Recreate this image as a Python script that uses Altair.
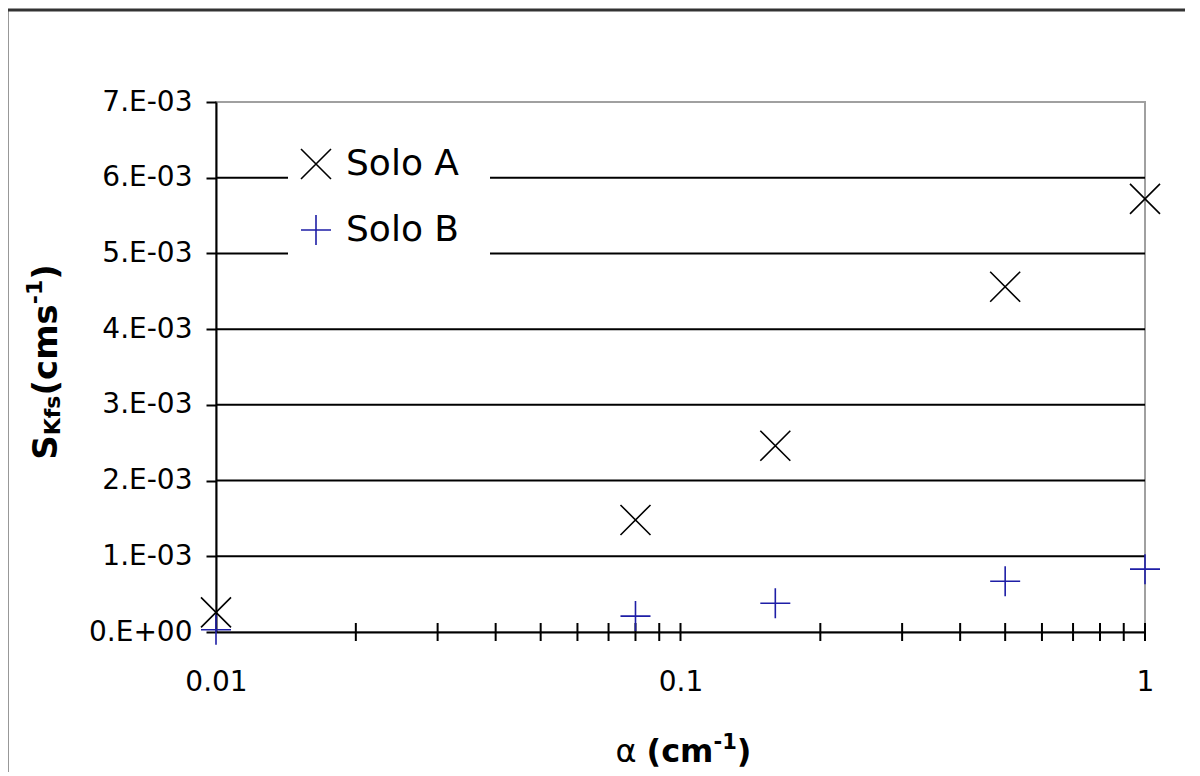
import altair as alt
import pandas as pd

# ---- data ----
alpha = [0.01, 0.08, 0.16, 0.5, 1.0]
solo_a = [0.00026, 0.00148, 0.00246, 0.00456, 0.00572]
solo_b = [0.00003, 0.00021, 0.00038, 0.00067, 0.00083]
series_names = ["Solo A", "Solo B"]
series_colors = ["#000000", "#1e1ea6"]
series_shapes = ["M-1,-1L1,1M-1,1L1,-1", "M0,-1L0,1M-1,0L1,0"]
y_ticks = [0, 0.001, 0.002, 0.003, 0.004, 0.005, 0.006, 0.007]
grid_vals = [0.001, 0.002, 0.003, 0.004, 0.005, 0.006]
x_labels = [0.01, 0.1, 1]
x_ticks = [0.02, 0.03, 0.04, 0.05, 0.06, 0.07, 0.08, 0.09, 0.1,
           0.2, 0.3, 0.4, 0.5, 0.6, 0.7, 0.8, 0.9, 1.0]

W, H = 929, 530
FONT = "DejaVu Sans"

df = pd.DataFrame({
    "alpha": alpha + alpha,
    "value": solo_a + solo_b,
    "series": [series_names[0]] * len(alpha) + [series_names[1]] * len(alpha),
})

xscale = alt.Scale(type="log", domain=[0.01, 1], nice=False)
yscale = alt.Scale(domain=[0, 0.007], nice=False)

one = pd.DataFrame({"k": [0]})

# outer frame
frame_left = alt.Chart(one).mark_rule(color="#333333", strokeWidth=3).encode(
    x=alt.value(-209), y=alt.value(-92), y2=alt.value(700))
frame_top = alt.Chart(one).mark_rule(color="#333333", strokeWidth=3).encode(
    x=alt.value(-210), x2=alt.value(1000), y=alt.value(-92))

# gridlines
grid = alt.Chart(pd.DataFrame({"g": grid_vals})).mark_rule(
    color="#000000", strokeWidth=2).encode(
    y=alt.Y("g:Q", scale=yscale, axis=alt.Axis(
        values=y_ticks,
        labelExpr="datum.value == 0 ? '0.E+00' : format(datum.value*1000, '.0f') + '.E-03'",
        tickSize=10, tickColor="#000000", tickWidth=2,
        domainColor="#000000", domainWidth=2, grid=False, title=None,
        labelFont=FONT, labelFontSize=28, labelColor="#000000", labelPadding=14)),
    x=alt.value(0), x2=alt.value(W))

# legend background box
legend_box = alt.Chart(one).mark_rect(color="white").encode(
    x=alt.value(72), x2=alt.value(274), y=alt.value(38), y2=alt.value(160))

# x ticks crossing the axis
xt = alt.Chart(pd.DataFrame({"t": x_ticks})).mark_rule(
    color="#000000", strokeWidth=2).encode(
    x=alt.X("t:Q", scale=xscale, axis=alt.Axis(
        values=x_labels, labelExpr="format(datum.value, '~g')",
        ticks=False, grid=False, domainColor="#000000", domainWidth=2,
        title=None, labelFont=FONT, labelFontSize=28, labelColor="#000000",
        labelPadding=36, labelFlush=False)),
    y=alt.value(H - 9), y2=alt.value(H + 9))

legend_kw = dict(
    title=None, orient="none", legendX=82, legendY=44, padding=0,
    labelFont=FONT, labelFontSize=36, labelColor="#000000",
    symbolSize=900, symbolStrokeWidth=1.6, labelOffset=12, rowPadding=28,
)

points = alt.Chart(df).mark_point(filled=False, size=900, strokeWidth=1.6,
                                  opacity=1).encode(
    x=alt.X("alpha:Q", scale=xscale),
    y=alt.Y("value:Q", scale=yscale),
    color=alt.Color("series:N", scale=alt.Scale(domain=series_names,
                                                range=series_colors),
                    legend=alt.Legend(**legend_kw)),
    shape=alt.Shape("series:N", scale=alt.Scale(domain=series_names,
                                                range=series_shapes),
                    legend=alt.Legend(**legend_kw)),
)


def piece(txt, x, y, size, bold=True, angle=0):
    kw = dict(text=txt, font=FONT, fontSize=size, align="left",
              baseline="alphabetic", color="#000000",
              fontWeight="bold" if bold else "normal")
    if angle:
        kw["angle"] = angle
    return alt.Chart(one).mark_text(**kw).encode(x=alt.value(x), y=alt.value(y))


# y title: S_Kfs(cms^-1), rotated
ytitle = [
    piece("S", -159, 357.75, 34, angle=270),
    piece("Kfs", -156, 333.25, 22, angle=270),
    piece("(cms", -159, 293.55, 34, angle=270),
    piece("-1", -174, 202.15, 22, angle=270),
    piece(")", -159, 177.75, 34, angle=270),
]
# x title: α (cm^-1)
xtitle = [
    piece("α", 399.5, 660, 32, bold=False),
    piece("(cm", 430.5, 660, 32),
    piece("-1", 497.5, 647, 21),
    piece(")", 520.8, 660, 32),
]

chart = alt.layer(frame_left, frame_top, grid, legend_box, xt, points,
                  *ytitle, *xtitle).properties(
    width=W, height=H,
    background="white",
    autosize=alt.AutoSizeParams(type="none"),
    padding={"left": 208, "top": 94, "right": 40, "bottom": 140},
).configure_view(
    stroke="#a0a0a0", strokeWidth=2
)

chart.save("out.html", embed_options={"renderer": "svg", "actions": False})
